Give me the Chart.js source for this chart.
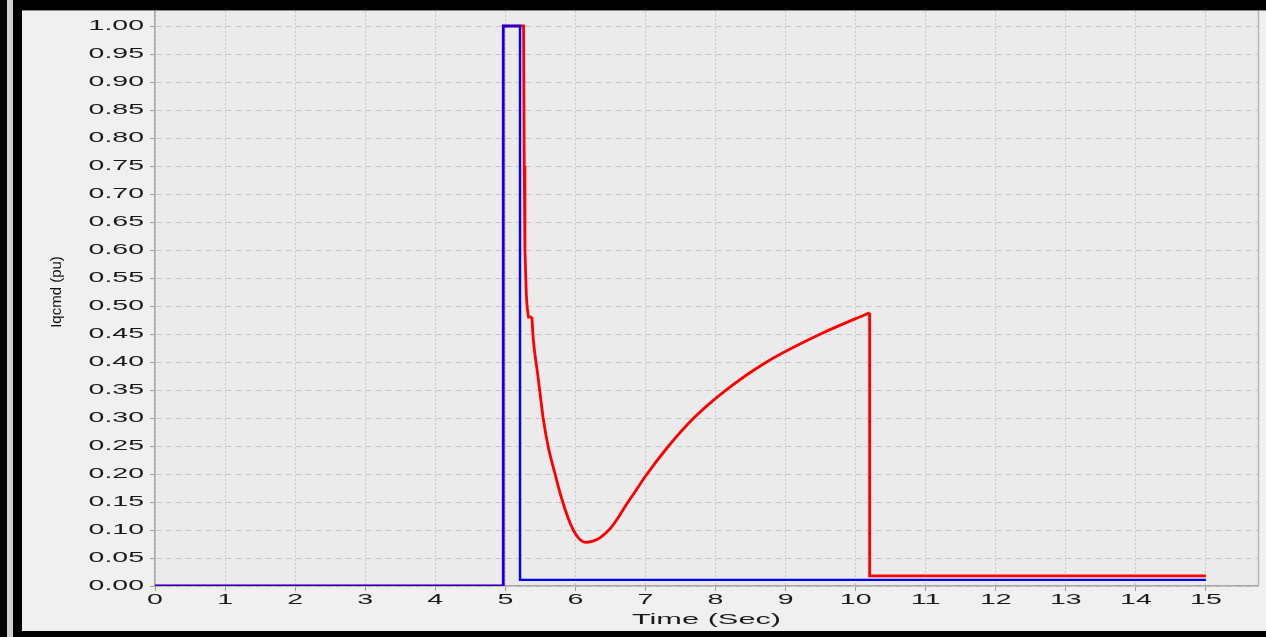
<!DOCTYPE html>
<html>
<head>
<meta charset="utf-8">
<script src="https://cdn.jsdelivr.net/npm/chart.js@4"></script>
<style>
  html, body { margin: 0; padding: 0; background: #000; width: 1266px; height: 637px; overflow: hidden; }
  #strip { position: absolute; left: 7px; top: 0; width: 6px; height: 637px; background: #cfcfcf; }
  #panel { position: absolute; left: 22px; top: 10px; width: 1244px; height: 620px; background: #f0f0f0; border-top: 1px solid #8a8a8a; }
  canvas { display: block; }
</style>
</head>
<body>
<div id="strip"></div>
<div id="panel"><canvas id="chart" width="1244" height="619"></canvas></div>
<script>
// Blue trace (x in seconds, y in pu)
const blueTime = [0, 4.97, 4.97, 5.21, 5.21, 15];
const blueIqcmd = [0, 0, 1.0, 1.0, 0.011, 0.011];

// Red trace, step part before the dip
const redStepTime = [0, 4.97, 4.97, 5.26, 5.27, 5.28, 5.30, 5.31, 5.33, 5.38];
const redStepIqcmd = [0, 0, 1.0, 1.0, 0.75, 0.60, 0.52, 0.50, 0.48, 0.48];

// Red trace, smooth dip and recovery
const redCurveTime = [5.38, 5.40, 5.46, 5.51, 5.54, 5.61, 5.71, 5.80, 5.90, 5.97, 6.05, 6.14,
  6.25, 6.36, 6.5, 6.6, 6.71, 6.85, 7.0, 7.33, 7.69, 8.1, 8.69, 9.5, 10.2];
const redCurveIqcmd = [0.48, 0.44, 0.38, 0.33, 0.30, 0.25, 0.20, 0.158, 0.12, 0.10, 0.085, 0.078,
  0.08, 0.087, 0.103, 0.12, 0.142, 0.168, 0.196, 0.25, 0.30, 0.345, 0.397, 0.45, 0.488];

// Red trace, drop and tail
const redTailTime = [10.2, 10.2, 15];
const redTailIqcmd = [0.488, 0.018, 0.018];

const xMax = 15.743;
const yMax = 1.0268;
const xTitle = 'Time (Sec)';
const yTitle = 'Iqcmd (pu)';

const toPoints = (xs, ys) => xs.map((x, i) => ({ x: x, y: ys[i] }));

const STRETCH = 1.9;
const labelFont = '15px "Liberation Sans", Arial, sans-serif';

const framePlugin = {
  id: 'frame',
  beforeDraw(chart) {
    const { ctx, chartArea: a } = chart;
    ctx.save();
    ctx.fillStyle = '#f0f0f0';
    ctx.fillRect(0, 0, chart.width, chart.height);
    ctx.fillStyle = '#ebebeb';
    ctx.fillRect(a.left, a.top, a.right - a.left, a.bottom - a.top);
    ctx.restore();
  },
  afterDraw(chart) {
    const { ctx, chartArea: a, scales } = chart;
    ctx.save();
    ctx.strokeStyle = '#b4b4b4';
    ctx.lineWidth = 1.5;
    ctx.beginPath();
    ctx.moveTo(a.right + 0.5, a.top);
    ctx.lineTo(a.right + 0.5, a.bottom);
    ctx.stroke();

    ctx.fillStyle = '#1a1a1a';
    ctx.font = labelFont;
    ctx.textBaseline = 'middle';

    // y tick labels
    ctx.textAlign = 'right';
    scales.y.ticks.forEach(t => {
      const y = scales.y.getPixelForValue(t.value);
      ctx.save();
      ctx.translate(a.left - 11, y);
      ctx.scale(STRETCH, 1);
      ctx.fillText(t.value.toFixed(2), 0, 0);
      ctx.restore();
    });

    // x tick labels
    ctx.textAlign = 'center';
    scales.x.ticks.forEach(t => {
      const x = scales.x.getPixelForValue(t.value);
      ctx.save();
      ctx.translate(x, a.bottom + 14);
      ctx.scale(STRETCH, 1);
      ctx.fillText(String(t.value), 0, 0);
      ctx.restore();
    });

    // x title
    ctx.save();
    ctx.translate((a.left + a.right) / 2, a.bottom + 34);
    ctx.scale(2.05, 1);
    ctx.fillText(xTitle, 0, 0);
    ctx.restore();

    // y title
    ctx.save();
    ctx.translate(35, 281);
    ctx.rotate(-Math.PI / 2);
    ctx.fillStyle = '#111';
    ctx.font = '15px "Liberation Sans", Arial, sans-serif';
    ctx.fillText(yTitle, 0, 0);
    ctx.restore();
    ctx.restore();
  }
};

const redStyle = { borderColor: '#ff0000', borderWidth: 2.8, pointRadius: 0, order: 5 };

new Chart(document.getElementById('chart').getContext('2d'), {
  type: 'line',
  data: {
    datasets: [
      Object.assign({ label: 'Red', data: toPoints(redStepTime, redStepIqcmd), tension: 0 }, redStyle),
      Object.assign({ label: 'Red curve', data: toPoints(redCurveTime, redCurveIqcmd), cubicInterpolationMode: 'monotone' }, redStyle),
      Object.assign({ label: 'Red tail', data: toPoints(redTailTime, redTailIqcmd), tension: 0 }, redStyle),
      {
        label: 'Blue',
        data: toPoints(blueTime, blueIqcmd),
        borderColor: '#0000ff',
        borderWidth: 2.4,
        pointRadius: 0,
        tension: 0,
        order: 0
      }
    ]
  },
  options: {
    responsive: false,
    animation: false,
    devicePixelRatio: 1,
    layout: { padding: { top: 0, right: 8, left: 0, bottom: 0 } },
    plugins: { legend: { display: false }, tooltip: { enabled: false } },
    scales: {
      x: {
        type: 'linear',
        min: 0,
        max: xMax,
        ticks: { stepSize: 1, includeBounds: false, display: false },
        grid: { color: '#c6c6c6', lineWidth: 1, drawTicks: true, tickLength: 5, tickColor: '#9a9a9a', tickBorderDash: [] },
        border: { display: true, color: '#a8a8a8', width: 1.5, dash: [2, 2] },
        afterFit(scale) { scale.height = 44; }
      },
      y: {
        type: 'linear',
        min: 0,
        max: yMax,
        ticks: { stepSize: 0.05, includeBounds: false, display: false },
        grid: { color: '#c6c6c6', lineWidth: 1, drawTicks: true, tickLength: 5, tickColor: '#9a9a9a', tickBorderDash: [] },
        border: { display: true, color: '#a8a8a8', width: 1.5, dash: [6, 4] },
        afterFit(scale) { scale.width = 133; }
      }
    }
  },
  plugins: [framePlugin]
});
</script>
</body>
</html>
